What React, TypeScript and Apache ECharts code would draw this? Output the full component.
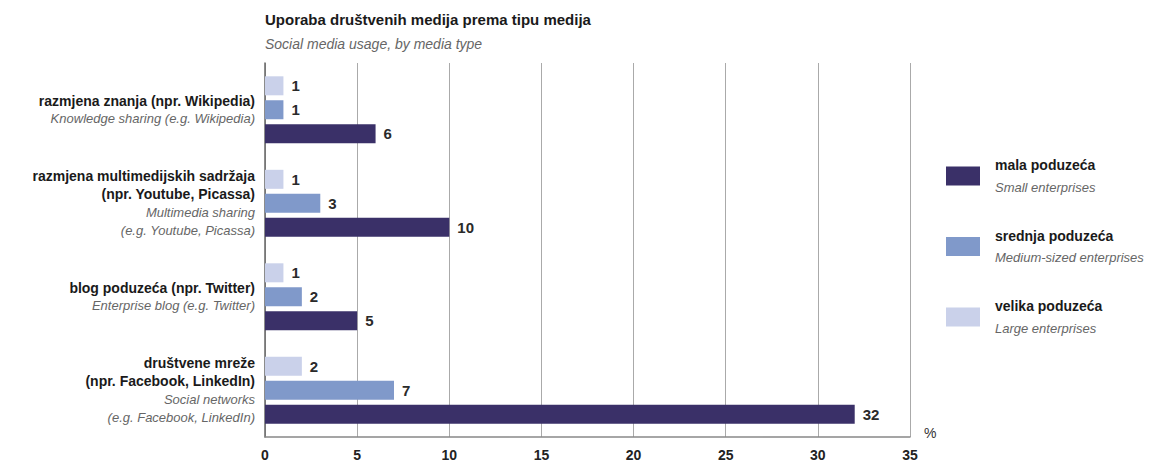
import React, { useEffect, useRef } from "react";
import * as echarts from "echarts";

const FONT = "'Liberation Sans Narrow', 'Arial Narrow', 'Liberation Sans', Arial, sans-serif";

const titleMain = "Uporaba društvenih medija prema tipu medija";
const titleSub = "Social media usage, by media type";

const categoriesHr = [
  ["razmjena znanja (npr. Wikipedia)"],
  ["razmjena multimedijskih sadržaja", "(npr. Youtube, Picassa)"],
  ["blog poduzeća (npr. Twitter)"],
  ["društvene mreže", "(npr. Facebook, LinkedIn)"],
];
const categoriesEn = [
  ["Knowledge sharing (e.g. Wikipedia)"],
  ["Multimedia sharing", "(e.g. Youtube, Picassa)"],
  ["Enterprise blog (e.g. Twitter)"],
  ["Social networks", "(e.g. Facebook, LinkedIn)"],
];
const categoryKeys = ["knowledge", "multimedia", "blog", "social"];

const seriesNamesHr = ["mala poduzeća", "srednja poduzeća", "velika poduzeća"];
const seriesNamesEn = ["Small enterprises", "Medium-sized enterprises", "Large enterprises"];

const smallValues = [6, 10, 5, 32];
const mediumValues = [1, 3, 2, 7];
const largeValues = [1, 1, 1, 2];

const xTicks = [0, 5, 10, 15, 20, 25, 30, 35];

const colors = ["#3a3068", "#8099ca", "#cad1ea"];

export default function App() {
  const ref = useRef<HTMLDivElement>(null);
  useEffect(() => {
    if (!ref.current) return;
    const chart = echarts.init(ref.current, null, { renderer: "svg" });
    const valuesBySeries = [smallValues, mediumValues, largeValues];
    const order = [2, 1, 0]; // large on top, then medium, then small
    const series = order.map((i) => ({
      name: seriesNamesHr[i],
      type: "bar" as const,
      data: valuesBySeries[i],
      barWidth: 19,
      barGap: "26%",
      itemStyle: { color: colors[i] },
      label: {
        show: true,
        position: "right" as const,
        distance: 8,
        fontFamily: FONT,
        fontSize: 15,
        fontWeight: "bold" as const,
        color: "#2a2a2a",
      },
    }));
    const enByHr: Record<string, string> = {};
    seriesNamesHr.forEach((n, i) => (enByHr[n] = seriesNamesEn[i]));

    chart.setOption({
      animation: false,
      textStyle: { fontFamily: FONT },
      grid: { left: 265, right: 263, top: 63, bottom: 28, containLabel: false },
      graphic: [
        {
          type: "text",
          left: 265,
          top: 12,
          style: { text: titleMain, fontFamily: FONT, fontSize: 15, fontWeight: "bold", fill: "#1a1a1a" },
        },
        {
          type: "text",
          left: 265,
          top: 37,
          style: { text: titleSub, fontFamily: FONT, fontSize: 14, fontStyle: "italic", fill: "#666" },
        },
      ],
      legend: {
        orient: "vertical",
        left: 941,
        top: 153,
        itemWidth: 34,
        itemHeight: 19,
        itemGap: 35,
        icon: "rect",
        data: seriesNamesHr,
        formatter: (name: string) => `{b|${name}}\n{i|${enByHr[name]}}`,
        textStyle: {
          padding: [0, 0, 0, 10],
          rich: {
            b: { fontFamily: FONT, fontSize: 14, fontWeight: "bold", color: "#1a1a1a", lineHeight: 22 },
            i: { fontFamily: FONT, fontSize: 13, fontStyle: "italic", color: "#666", lineHeight: 22 },
          },
        },
      },
      xAxis: {
        type: "value",
        min: 0,
        max: 35,
        interval: 5,
        name: "%",
        nameLocation: "end",
        nameGap: 14,
        nameTextStyle: { fontFamily: FONT, fontSize: 14, color: "#333", verticalAlign: "top", padding: [-11, 0, 0, 0] },
        axisLine: { show: true, lineStyle: { color: "#888", width: 1.5 } },
        axisTick: { show: false },
        splitLine: { show: true, lineStyle: { color: "#aaa", width: 1 } },
        axisLabel: {
          margin: 11,
          fontFamily: FONT,
          fontSize: 14,
          fontWeight: "bold",
          color: "#222",
          formatter: (v: number) => (xTicks.includes(v) ? String(v) : ""),
        },
      },
      yAxis: {
        type: "category",
        inverse: true,
        data: categoryKeys,
        axisLine: { show: true, lineStyle: { color: "#666", width: 1.5 } },
        axisTick: { show: false },
        axisLabel: {
          margin: 10,
          align: "right",
          formatter: (_: string, idx: number) => {
            const hr = categoriesHr[idx].map((t) => `{b|${t}}`);
            const en = categoriesEn[idx].map((t) => `{i|${t}}`);
            return [...hr, ...en].join("\n");
          },
          rich: {
            b: { fontFamily: FONT, fontSize: 14, fontWeight: "bold", color: "#1a1a1a", lineHeight: 18, align: "right" },
            i: { fontFamily: FONT, fontSize: 13, fontStyle: "italic", color: "#666", lineHeight: 18, align: "right" },
          },
        },
      },
      series,
    });
    return () => chart.dispose();
  }, []);
  return <div ref={ref} style={{ width: 1173, height: 465, position: "absolute", left: 0, top: 0 }} />;
}
